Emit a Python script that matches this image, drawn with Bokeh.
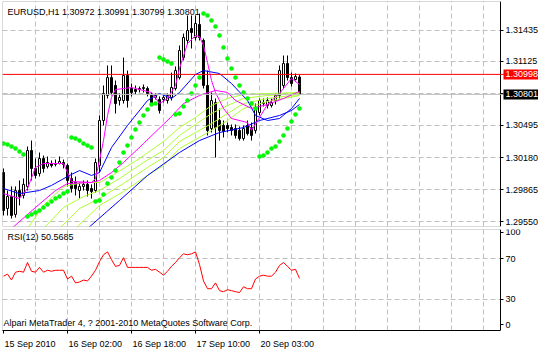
from bokeh.plotting import figure
from bokeh.layouts import column
from bokeh.models import (Range1d, FixedTicker, Span, Label, Grid, BoxAnnotation,
                          PrintfTickFormatter, ColumnDataSource)
from bokeh.embed import file_html
from bokeh.resources import INLINE

FONT = "Liberation Sans"
FS = "9px"
GRID = "#C0C0C0"
DASH = "5 3"

# ---------------- data (EURUSD H1, bars indexed from 15 Sep 2010 10:00) ----------------
open_ = [1.30032, 1.29678, 1.29796, 1.29619, 1.29855, 1.29806, 1.29895, 1.30249, 1.30072, 1.30022,
         1.30170, 1.30092, 1.30121, 1.30112, 1.30121, 1.30131, 1.30102, 1.29973, 1.29934, 1.29855,
         1.29895, 1.29915, 1.29875, 1.29855, 1.30102, 1.30544, 1.30791, 1.30967, 1.30889, 1.30741,
         1.30741, 1.30987, 1.30859, 1.30849, 1.30849, 1.30859, 1.30859, 1.30791, 1.30771, 1.30751,
         1.30751, 1.30741, 1.30771, 1.30859, 1.30967, 1.31164, 1.31332, 1.31450, 1.31361, 1.31489,
         1.31332, 1.30889, 1.30465, 1.30721, 1.30544, 1.30495, 1.30495, 1.30475, 1.30465, 1.30446,
         1.30367, 1.30495, 1.30475, 1.30446, 1.30623, 1.30711, 1.30692, 1.30692, 1.30741, 1.30791,
         1.30889, 1.31105, 1.30967, 1.30948, 1.30972]
high = [1.30072, 1.29855, 1.29895, 1.29895, 1.29954, 1.29973, 1.30288, 1.30347, 1.30170, 1.30229,
        1.30200, 1.30190, 1.30151, 1.30160, 1.30190, 1.30160, 1.30121, 1.30032, 1.29993, 1.29934,
        1.29954, 1.29954, 1.29915, 1.30170, 1.30594, 1.30889, 1.31086, 1.31086, 1.30938, 1.30810,
        1.31164, 1.31036, 1.30908, 1.30889, 1.30879, 1.30899, 1.30879, 1.30820, 1.30810, 1.30781,
        1.30791, 1.30810, 1.31016, 1.31076, 1.31282, 1.31400, 1.31578, 1.31578, 1.31578, 1.31597,
        1.31351, 1.31036, 1.30820, 1.30761, 1.30662, 1.30544, 1.30524, 1.30505, 1.30505, 1.30485,
        1.30495, 1.30544, 1.30524, 1.30711, 1.30761, 1.30761, 1.30771, 1.30761, 1.30810, 1.31086,
        1.31184, 1.31184, 1.31016, 1.31007, 1.30991]
low = [1.29609, 1.29609, 1.29579, 1.29589, 1.29708, 1.29776, 1.29855, 1.29954, 1.29973, 1.29993,
       1.30032, 1.30072, 1.30082, 1.30092, 1.30112, 1.30072, 1.29895, 1.29835, 1.29806, 1.29776,
       1.29855, 1.29796, 1.29776, 1.29835, 1.30032, 1.30495, 1.30761, 1.30791, 1.30613, 1.30692,
       1.30711, 1.30672, 1.30781, 1.30800, 1.30820, 1.30820, 1.30781, 1.30692, 1.30751, 1.30613,
       1.30721, 1.30711, 1.30741, 1.30840, 1.30948, 1.31135, 1.31292, 1.31253, 1.31332, 1.31332,
       1.30859, 1.30397, 1.30426, 1.30180, 1.30347, 1.30377, 1.30426, 1.30397, 1.30367, 1.30347,
       1.30347, 1.30397, 1.30347, 1.30416, 1.30594, 1.30682, 1.30662, 1.30672, 1.30702, 1.30761,
       1.30859, 1.30938, 1.30879, 1.30938, 1.30799]
close = [1.29658, 1.29796, 1.29609, 1.29855, 1.29796, 1.29915, 1.30249, 1.30072, 1.30003, 1.30170,
         1.30072, 1.30131, 1.30102, 1.30121, 1.30141, 1.30112, 1.29954, 1.29875, 1.29875, 1.29895,
         1.29915, 1.29855, 1.29845, 1.30131, 1.30544, 1.30810, 1.30967, 1.30820, 1.30711, 1.30771,
         1.30987, 1.30741, 1.30820, 1.30830, 1.30859, 1.30869, 1.30810, 1.30721, 1.30791, 1.30643,
         1.30771, 1.30791, 1.30869, 1.31036, 1.31233, 1.31361, 1.31430, 1.31410, 1.31499, 1.31361,
         1.30889, 1.30446, 1.30741, 1.30475, 1.30446, 1.30436, 1.30465, 1.30446, 1.30397, 1.30367,
         1.30465, 1.30416, 1.30397, 1.30672, 1.30741, 1.30721, 1.30741, 1.30721, 1.30791, 1.31036,
         1.31105, 1.30967, 1.30908, 1.30977, 1.30801]

# Parabolic SAR
sar = [1.30317, 1.30308, 1.30288, 1.30268, 1.30239, 1.30210, 1.29599, 1.29619, 1.29638, 1.29658,
       1.29688, 1.29718, 1.29747, 1.29776, 1.29796, 1.29826, 1.29845, 1.30377, 1.30367, 1.30347,
       1.30317, 1.30298, 1.30278, 1.29747, 1.29757, 1.29816, 1.29924, 1.29983, 1.30052, 1.30131,
       1.30229, 1.30298, 1.30377, 1.30456, 1.30524, 1.30594, 1.30653, 1.30702, 1.30711, 1.31164,
       1.31145, 1.31125, 1.31105, 1.30604, 1.30613, 1.30682, 1.30741, 1.30810, 1.30889, 1.30967,
       1.31597, 1.31578, 1.31529, 1.31470, 1.31381, 1.31263, 1.31154, 1.31056, 1.30967, 1.30889,
       1.30820, 1.30761, 1.30711, 1.30662, 1.30190, 1.30200, 1.30229, 1.30268, 1.30288, 1.30337,
       1.30397, 1.30465, 1.30534, 1.30604, 1.30662]

# RSI(12)
rsi = [52.8, 54.8, 49.0, 56.7, 57.6, 56.7, 66.2, 57.6, 56.7, 61.4,
       56.7, 58.6, 57.6, 58.6, 58.6, 58.6, 50.0, 52.8, 46.2, 47.1,
       49.0, 48.1, 52.8, 58.6, 67.1, 73.8, 76.6, 69.0, 62.4, 63.3,
       70.9, 61.4, 61.4, 61.4, 61.4, 61.4, 61.4, 58.6, 59.5, 56.7,
       53.8, 57.6, 62.4, 66.2, 70.9, 74.7, 73.8, 74.7, 76.6, 64.3,
       48.1, 40.5, 40.5, 46.2, 38.6, 37.6, 39.5, 38.6, 37.6, 36.7,
       42.4, 40.5, 40.5, 50.0, 52.8, 53.8, 52.8, 52.8, 56.7, 63.3,
       66.2, 62.4, 58.6, 59.5, 50.57]

# moving averages (bar index, value)
fast_ma_x = [0, 4, 6, 8, 10, 15, 16, 17, 22, 23, 24, 25, 26, 27, 28, 32, 37, 39, 41, 43,
             44, 46, 48, 49, 50, 51, 52, 53, 55, 57, 61, 62, 64, 66, 69, 72, 74]
fast_ma_y = [1.29825, 1.29776, 1.29875, 1.30082, 1.30121, 1.30121, 1.30032, 1.29944, 1.29934, 1.29973,
             1.30151, 1.30347, 1.30594, 1.30771, 1.30849, 1.30869, 1.30820, 1.30711, 1.30761, 1.30889,
             1.31056, 1.31302, 1.31381, 1.31371, 1.31282, 1.31115, 1.30938, 1.30820, 1.30662, 1.30564,
             1.30524, 1.30446, 1.30574, 1.30702, 1.30810, 1.30958, 1.30899]
slow_ma_x = [2, 8, 13, 16, 22, 24, 27, 30, 35, 42, 45, 49, 53, 56, 58, 62, 66, 70, 74]
slow_ma_y = [1.29480, 1.29688, 1.29855, 1.29924, 1.29934, 1.29954, 1.30032, 1.30131, 1.30317, 1.30584,
             1.30711, 1.30791, 1.30840, 1.30820, 1.30741, 1.30662, 1.30702, 1.30761, 1.30830]
mid_blue_x = [0, 4, 9, 12, 16, 19, 22, 24, 27, 31, 36, 39, 42, 44, 48, 50, 54, 57, 61, 63,
              66, 69, 72, 74]
mid_blue_y = [1.29875, 1.29825, 1.29855, 1.29905, 1.29993, 1.30052, 1.30003, 1.30032, 1.30278, 1.30495,
              1.30741, 1.30810, 1.30761, 1.30820, 1.30997, 1.31036, 1.31007, 1.30908, 1.30741, 1.30594,
              1.30544, 1.30564, 1.30662, 1.30761]
slow_blue_x = [21, 29, 36, 44, 49, 54, 60, 64, 69, 72, 74]
slow_blue_y = [1.29480, 1.29757, 1.30003, 1.30229, 1.30347, 1.30426, 1.30475, 1.30544, 1.30594,
               1.30643, 1.30702]
ma1_x = [6, 10, 15, 20, 24, 28, 34, 40, 44, 48, 52, 56, 60, 66, 74]
ma1_y = [1.29480, 1.29708, 1.29895, 1.29934, 1.29934, 1.30022, 1.30170, 1.30337, 1.30475, 1.30574,
         1.30692, 1.30761, 1.30800, 1.30810, 1.30820]
ma2_x = [10, 15, 20, 24, 29, 35, 40, 44, 48, 52, 56, 60, 66, 74]
ma2_y = [1.29480, 1.29688, 1.29796, 1.29855, 1.29973, 1.30131, 1.30249, 1.30397, 1.30505, 1.30613,
         1.30692, 1.30761, 1.30791, 1.30810]
ma3_x = [14, 19, 24, 30, 36, 40, 44, 48, 52, 56, 60, 66, 74]
ma3_y = [1.29480, 1.29678, 1.29776, 1.29924, 1.30082, 1.30180, 1.30337, 1.30426, 1.30514, 1.30613,
         1.30711, 1.30761, 1.30800]
ma4_x = [18, 24, 30, 36, 40, 44, 48, 52, 56, 60, 66, 74]
ma4_y = [1.29480, 1.29708, 1.29845, 1.30003, 1.30102, 1.30268, 1.30357, 1.30446, 1.30544, 1.30662,
         1.30731, 1.30791]

price_ticks = [1.29550, 1.29865, 1.30180, 1.30495, 1.30810, 1.31125, 1.31435]
hidden_price_tick = 1.30810          # its label sits under the bid-price box
hline_price = 1.30998
bid_price = 1.30801
time_ticks = [0, 16, 32, 48, 64]
time_labels = ["15 Sep 2010", "16 Sep 02:00", "16 Sep 18:00", "17 Sep 10:00", "20 Sep 03:00"]
rsi_ticks = [5.24, 30, 70, 95.7]
rsi_tick_labels = ["0", "30", "70", "100"]
header = "EURUSD,H1  1.30972 1.30991 1.30799 1.30801"
rsi_header = "RSI(12) 50.5685"
footer = "Alpari MetaTrader 4, ? 2001-2010 MetaQuotes Software Corp."

# ---------------- layout constants (bar units, 4 px per bar) ----------------
X0 = -0.25          # left edge of the chart window
XAX = 124.25        # price-scale line (right edge of the chart area)
X1 = 133.75         # right edge of the canvas
Y0, Y1 = 1.295008, 1.317156
R0, R1 = -0.48, 98.57
# time labels are left-aligned at their tick: centre offset (bars) of each label
time_label_shift = [6.63, 6.94, 6.94, 6.94, 6.94]
vgrid = list(range(8, 121, 8))

bars = list(range(len(close)))
top = [max(o, c) for o, c in zip(open_, close)]
bot = [min(o, c) for o, c in zip(open_, close)]
fill = ["white" if c >= o else "black" for o, c in zip(open_, close)]
src = ColumnDataSource(dict(x=bars, h=high, l=low, top=top, bot=bot, fill=fill, sar=sar))

# ---------------- main price chart ----------------
p = figure(width=538, height=228, output_backend="svg", toolbar_location=None,
           x_range=Range1d(X0, X1), y_range=Range1d(Y0, Y1),
           x_axis_location=None, y_axis_location="right",
           min_border_left=2, min_border_right=0, min_border_top=1, min_border_bottom=2,
           background_fill_color="white", border_fill_color="white",
           outline_line_color=None)
p.grid.visible = False
p.add_layout(Grid(dimension=0, ticker=FixedTicker(ticks=vgrid),
                  grid_line_color=GRID, grid_line_dash=DASH))
p.add_layout(Grid(dimension=1, ticker=FixedTicker(ticks=price_ticks),
                  grid_line_color=GRID, grid_line_dash=DASH))
p.add_layout(BoxAnnotation(left=XAX, fill_color="white", fill_alpha=1, line_alpha=0,
                           level="underlay"))

ya = p.yaxis[0]
ya.fixed_location = XAX
ya.ticker = FixedTicker(ticks=price_ticks, minor_ticks=[])
ya.formatter = PrintfTickFormatter(format="%.5f")
ya.major_label_overrides = {hidden_price_tick: ""}
ya.major_tick_out = 3
ya.major_tick_in = 0
ya.major_label_standoff = 2
ya.axis_line_color = "black"
ya.major_tick_line_color = "black"
ya.major_label_text_font = FONT
ya.major_label_text_font_size = FS
ya.major_label_text_color = "black"

p.add_layout(Span(location=bid_price, dimension="width", line_color="#C0C0C0", line_width=1))
p.add_layout(Span(location=hline_price, dimension="width", line_color="red", line_width=1))

p.segment(x0="x", y0="l", x1="x", y1="h", source=src, line_color="black", line_width=1)
p.vbar(x="x", top="top", bottom="bot", width=0.5, source=src,
       fill_color="fill", line_color="black", line_width=1)

for xs, ys in [(ma4_x, ma4_y), (ma3_x, ma3_y), (ma2_x, ma2_y), (ma1_x, ma1_y)]:
    p.line(xs, ys, line_color="#ADFF2F", line_width=1)
p.line(slow_blue_x, slow_blue_y, line_color="#0000FF", line_width=1)
p.line(mid_blue_x, mid_blue_y, line_color="#0000FF", line_width=1)
p.line(slow_ma_x, slow_ma_y, line_color="#FF00FF", line_width=1)
p.line(fast_ma_x, fast_ma_y, line_color="#FF00FF", line_width=1)
p.scatter(x="x", y="sar", source=src, marker="circle", size=4,
          fill_color="#00FF00", line_color="#00DD00", line_width=0.5)

p.add_layout(BoxAnnotation(right=XAX, fill_alpha=0, line_color="black", line_width=1))
p.add_layout(Label(x=X0, y=Y1, x_offset=5, y_offset=-5, text=header, text_baseline="top",
                   text_font=FONT, text_font_size=FS, text_color="black"))
p.add_layout(Label(x=XAX, y=hline_price, x_offset=3, text="1.30998", text_baseline="middle",
                   text_font=FONT, text_font_size=FS, text_color="white",
                   background_fill_color="red", padding=2))
p.add_layout(Label(x=XAX, y=bid_price, x_offset=3, text="1.30801", text_baseline="middle",
                   text_font=FONT, text_font_size=FS, text_color="white",
                   background_fill_color="black", padding=2))

# ---------------- RSI panel ----------------
r = figure(width=538, height=123, output_backend="svg", toolbar_location=None,
           x_range=p.x_range, y_range=Range1d(R0, R1),
           x_axis_location="below", y_axis_location="right",
           min_border_left=2, min_border_right=0, min_border_top=1, min_border_bottom=18,
           background_fill_color="white", border_fill_color="white",
           outline_line_color=None)
r.grid.visible = False
r.add_layout(Grid(dimension=0, ticker=FixedTicker(ticks=vgrid),
                  grid_line_color=GRID, grid_line_dash=DASH))
r.add_layout(Grid(dimension=1, ticker=FixedTicker(ticks=[30, 70]),
                  grid_line_color=GRID, grid_line_dash=DASH))
r.add_layout(BoxAnnotation(left=XAX, fill_color="white", fill_alpha=1, line_alpha=0,
                           level="underlay"))

ry = r.yaxis[0]
ry.fixed_location = XAX
ry.ticker = FixedTicker(ticks=rsi_ticks, minor_ticks=[])
ry.major_label_overrides = {t: s for t, s in zip(rsi_ticks, rsi_tick_labels)}
ry.major_tick_out = 3
ry.major_tick_in = 0
ry.major_label_standoff = 2
ry.axis_line_color = "black"
ry.major_label_text_font = FONT
ry.major_label_text_font_size = FS
ry.major_label_text_color = "black"

rx = r.xaxis[0]
label_pos = [t + s for t, s in zip(time_ticks, time_label_shift)]
rx.ticker = FixedTicker(ticks=label_pos, minor_ticks=time_ticks)
rx.major_label_overrides = {pos: s for pos, s in zip(label_pos, time_labels)}
rx.bounds = (X0, XAX)
rx.major_tick_out = 0
rx.major_tick_in = 0
rx.minor_tick_out = 3
rx.minor_tick_in = 0
rx.minor_tick_line_color = "black"
rx.major_label_standoff = 5
rx.axis_line_color = "black"
rx.major_label_text_font = FONT
rx.major_label_text_font_size = FS
rx.major_label_text_color = "black"

r.line(bars, rsi, line_color="red", line_width=1)

r.add_layout(BoxAnnotation(right=XAX, fill_alpha=0, line_color="black", line_width=1))
r.add_layout(Label(x=X0, y=R1, x_offset=5, y_offset=-2, text=rsi_header, text_baseline="top",
                   text_font=FONT, text_font_size=FS, text_color="black"))
r.add_layout(Label(x=X0, y=R0, x_offset=1, y_offset=3, text=footer, text_baseline="bottom",
                   text_font=FONT, text_font_size=FS, text_color="black"))

layout = column(p, r, spacing=0)
open("out.html", "w").write(file_html(layout, INLINE))
